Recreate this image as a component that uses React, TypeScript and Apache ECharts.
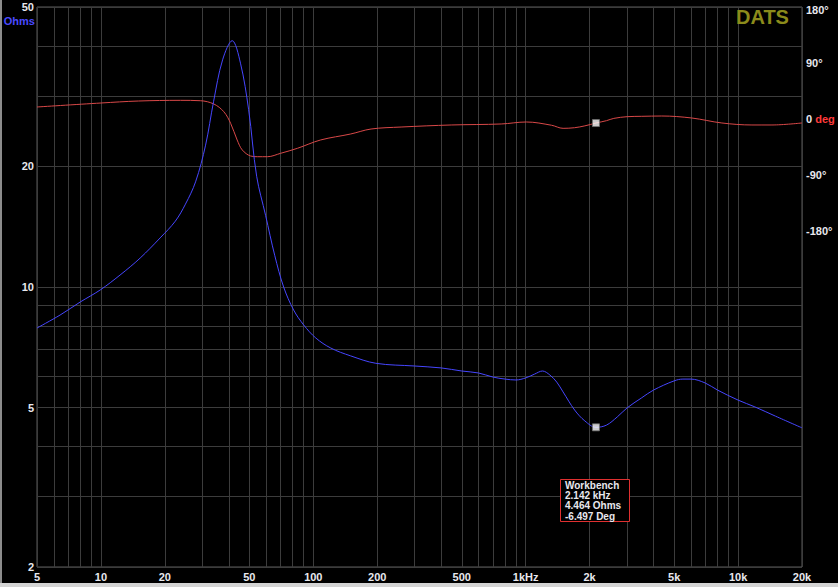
import React, { useEffect, useRef } from 'react';
import * as echarts from 'echarts';

// Frequency axis (Hz)
const freqLabelValues = [5, 10, 20, 50, 100, 200, 500, 1000, 2000, 5000, 10000, 20000];
const freqLabelTexts = ['5', '10', '20', '50', '100', '200', '500', '1kHz', '2k', '5k', '10k', '20k'];
const freqGridValues = [
  5, 6, 7, 8, 9, 10, 20, 30, 40, 50, 60, 70, 80, 90, 100,
  200, 300, 400, 500, 600, 700, 800, 900, 1000,
  2000, 3000, 4000, 5000, 6000, 7000, 8000, 9000, 10000, 20000,
];

// Impedance axis (Ohms)
const ohmLabelValues = [2, 5, 10, 20, 50];
const ohmGridValues = [2, 3, 4, 5, 6, 7, 8, 9, 10, 20, 30, 40, 50];

// Phase axis (degrees)
const phaseLabelValues = [-180, -90, 0, 90, 180];

// Impedance curve
const impFreq = [
  5, 6.42, 7.98, 9.92, 12.3, 15.3, 19.0, 22.4, 25.0, 27.9, 31.1, 33.9, 37.4, 41.5, 45.4, 49.6,
  54.1, 59.6, 65.8, 72.5, 80.8, 90.1, 102.7, 120.9, 150, 197, 300, 400, 500, 600, 700, 800,
  900, 1000, 1100, 1200, 1300, 1400, 1500, 1700, 1900, 2142, 2400, 2700, 3000, 3500, 4000,
  5000, 5500, 6000, 7000, 8000, 10000, 12000, 15000, 20000,
];
const impOhms = [
  7.9, 8.51, 9.17, 9.83, 10.71, 11.81, 13.26, 14.6, 16.1, 18.3, 22.6, 29.0, 36.9, 41.2, 36.2, 27.7,
  18.9, 15.1, 12.0, 10.0, 8.76, 8.04, 7.46, 7.04, 6.73, 6.45, 6.35, 6.28, 6.17, 6.1, 5.96, 5.89,
  5.86, 5.93, 6.06, 6.17, 6.03, 5.79, 5.47, 4.93, 4.63, 4.464, 4.52, 4.74, 4.99, 5.28, 5.53,
  5.83, 5.89, 5.89, 5.76, 5.53, 5.22, 5.02, 4.76, 4.45,
];

// Phase curve
const phaseFreq = [
  5, 10, 15, 23.7, 29.4, 34.0, 37.9, 40.8, 43.8, 46.3, 50.7, 54.5, 60.8, 70.2, 84.2, 108,
  150, 187, 259, 446, 767, 1007, 1322, 1500, 1700, 1900, 2142, 2400, 2600, 3000, 3500, 4370,
  6055, 8386, 11625, 14445, 20000,
];
const phaseDeg = [
  19.3, 25.7, 28.9, 30, 29.4, 24.1, 11.7, -6.9, -33.8, -49.8, -59.5, -60.6, -60.6, -55.1, -47.1, -33.8,
  -24.1, -16.1, -12.9, -9.6, -8.0, -4.8, -10, -15, -14, -11, -6.497, -2.7, 1, 3.7, 4.3, 4.8,
  1.6, -6.4, -9.6, -9.6, -6.4,
];

// Cursor readout
const cursorFreq = 2142;
const cursorOhms = 4.464;
const cursorDeg = -6.497;
const readoutLines = ['Workbench', '2.142 kHz', '4.464 Ohms', '-6.497 Deg'];

const FONT = "'Liberation Sans', Arial, sans-serif";
const LABEL_COLOR = '#e8e8ee';

export default function App() {
  const ref = useRef<HTMLDivElement>(null);

  useEffect(() => {
    document.body.style.margin = '0';
    if (!ref.current) return;
    const chart = echarts.init(ref.current, undefined, { renderer: 'svg' });

    const impData = impFreq.map((f, i) => [f, impOhms[i]]);
    const phaseData = phaseFreq.map((f, i) => [f, phaseDeg[i]]);

    const labelStyle = {
      color: LABEL_COLOR,
      fontFamily: FONT,
      fontWeight: 'bold' as const,
      fontSize: 11,
    };

    // chart div sits at x=2, so all pixel positions below are 2px left of page coords
    chart.setOption({
      animation: false,
      backgroundColor: '#000000',
      grid: {
        left: 35,
        right: 36,
        top: 7,
        bottom: 16,
        show: true,
        backgroundColor: '#000000',
        borderColor: '#5a5a5a',
        borderWidth: 1,
      },
      xAxis: {
        type: 'log',
        logBase: 10,
        min: 5,
        max: 20000,
        axisLine: { show: false },
        axisTick: { show: false, customValues: freqGridValues },
        splitLine: { show: true, lineStyle: { color: '#3c3c3c', width: 1 } },
        axisLabel: {
          ...labelStyle,
          margin: 4,
          customValues: freqLabelValues,
          formatter: (v: number) => {
            const idx = freqLabelValues.findIndex((x) => Math.abs(x - v) / x < 1e-6);
            return idx >= 0 ? freqLabelTexts[idx] : '';
          },
        },
      },
      yAxis: [
        {
          type: 'log',
          logBase: 10,
          min: 2,
          max: 50,
          position: 'left',
          axisLine: { show: false },
          axisTick: { show: false, customValues: ohmGridValues },
          splitLine: { show: true, lineStyle: { color: '#3c3c3c', width: 1 } },
          axisLabel: {
            ...labelStyle,
            margin: 3,
            customValues: ohmLabelValues,
            formatter: (v: number) => String(Math.round(v)),
          },
        },
        {
          type: 'value',
          min: -720,
          max: 180,
          interval: 90,
          position: 'right',
          axisLine: { show: false },
          axisTick: { show: false },
          splitLine: { show: false },
          axisLabel: {
            ...labelStyle,
            margin: 4,
            customValues: phaseLabelValues,
            formatter: (v: number) => {
              if (v < -180) return '';
              if (v === 0) return '{w|0 }{r|deg}';
              if (v === 180) return '{t|180°}';
              return v + '°';
            },
            rich: {
              w: { ...labelStyle },
              r: { ...labelStyle, color: '#ff3a3a' },
              t: { ...labelStyle, padding: [6, 0, 0, 0] },
            },
          },
        },
      ],
      series: [
        {
          name: 'Phase',
          type: 'line',
          yAxisIndex: 1,
          data: phaseData,
          symbol: 'none',
          smooth: 0.35,
          lineStyle: { color: '#d84848', width: 1 },
          z: 2,
        },
        {
          name: 'Impedance',
          type: 'line',
          yAxisIndex: 0,
          data: impData,
          symbol: 'none',
          smooth: 0.35,
          lineStyle: { color: '#4646ff', width: 1 },
          z: 3,
        },
        {
          name: 'CursorZ',
          type: 'scatter',
          yAxisIndex: 0,
          data: [[cursorFreq, cursorOhms]],
          symbol: 'rect',
          symbolSize: 7,
          itemStyle: { color: '#ffffff', borderColor: '#707070', borderWidth: 1 },
          z: 5,
        },
        {
          name: 'CursorPhase',
          type: 'scatter',
          yAxisIndex: 1,
          data: [[cursorFreq, cursorDeg]],
          symbol: 'rect',
          symbolSize: 7,
          itemStyle: { color: '#ffffff', borderColor: '#707070', borderWidth: 1 },
          z: 5,
        },
      ],
      graphic: [
        {
          id: 'ohmsLabel',
          type: 'text',
          x: 33,
          y: 21,
          style: {
            text: 'Ohms',
            fill: '#4a4aff',
            font: `bold 11px ${FONT}`,
            textAlign: 'right',
            textVerticalAlign: 'middle',
          },
          z: 100,
        },
        {
          id: 'brand',
          type: 'text',
          x: 734,
          y: 7,
          style: {
            text: 'DATS',
            fill: '#8b8b1b',
            font: `bold 20px ${FONT}`,
            textAlign: 'left',
            textVerticalAlign: 'top',
          },
          z: 100,
        },
        {
          id: 'readoutBox',
          type: 'rect',
          shape: { x: 558.5, y: 479.5, width: 69, height: 42 },
          style: { fill: '#000000', stroke: '#e03030', lineWidth: 1 },
          z: 100,
        },
        {
          id: 'readoutText',
          type: 'text',
          x: 563,
          y: 480,
          style: {
            text: readoutLines.join('\n'),
            fill: '#e8e8ee',
            font: `bold 10px ${FONT}`,
            lineHeight: 10.3,
            textAlign: 'left',
            textVerticalAlign: 'top',
          },
          z: 101,
        },
      ],
    });

    return () => chart.dispose();
  }, []);

  return (
    <div style={{ position: 'relative', width: 838, height: 587, background: '#d4d4d4', overflow: 'hidden' }}>
      <div style={{ position: 'absolute', left: 0, top: 0, width: 2, height: 583, background: '#8c8c8c' }} />
      <div ref={ref} style={{ position: 'absolute', left: 2, top: 0, width: 836, height: 583 }} />
    </div>
  );
}
